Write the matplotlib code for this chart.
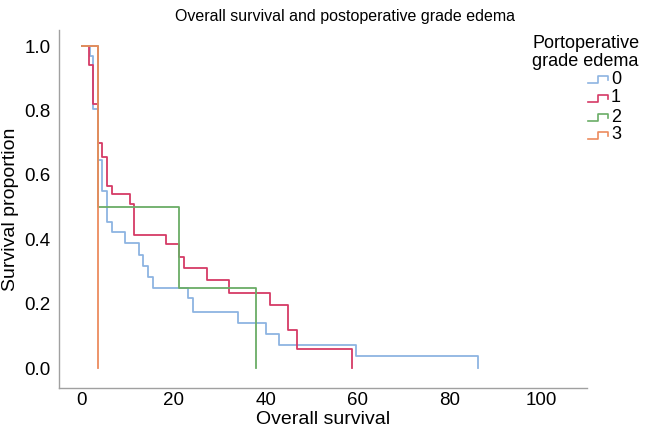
import matplotlib
matplotlib.use("Agg")
import matplotlib.pyplot as plt
from matplotlib.lines import Line2D

plt.rcParams["font.family"] = ["Liberation Sans", "DejaVu Sans"]

# ── Kaplan-Meier step data ───────────────────────────────────────────────────
GROUPS = ["0", "1", "2", "3"]
COLORS = ["#8db4e2", "#d63a66", "#6aad66", "#ec8b5e"]

times_0 = [0, 1.7, 2.5, 3.5, 4.4, 5.5, 6.5, 9.4, 12.5, 13.4, 14.4, 15.4,
           23.1, 24.2, 34.0, 40.0, 43.0, 59.7, 86.3]
surv_0 = [1.0, 0.97, 0.806, 0.646, 0.55, 0.453, 0.423, 0.387, 0.351, 0.318,
          0.284, 0.249, 0.217, 0.175, 0.141, 0.106, 0.071, 0.037, 0.0]

times_1 = [0, 1.5, 2.4, 3.5, 4.4, 5.4, 6.5, 10.5, 11.3, 18.3, 21.2, 22.2,
           27.2, 32.1, 41.0, 44.9, 46.9, 58.8]
surv_1 = [1.0, 0.94, 0.82, 0.70, 0.655, 0.565, 0.54, 0.51, 0.413, 0.385,
          0.346, 0.312, 0.275, 0.234, 0.196, 0.118, 0.059, 0.0]

times_2 = [0, 3.5, 21.1, 38.0]
surv_2 = [1.0, 0.5, 0.25, 0.0]

times_3 = [0, 3.5]
surv_3 = [1.0, 0.0]

X_TICKS = [0, 20, 40, 60, 80, 100]
Y_TICKS = [0.0, 0.2, 0.4, 0.6, 0.8, 1.0]

fig = plt.figure(figsize=(6.57, 4.33), dpi=100)
ax = fig.add_axes([59 / 657, 1 - 388 / 433, (587 - 59) / 657, (388 - 30) / 433])

series = [(times_0, surv_0), (times_1, surv_1), (times_2, surv_2), (times_3, surv_3)]
for (t, s), c in zip(series, COLORS):
    ax.step(t, s, where="post", color=c, lw=1.3)

ax.set_xlim(-5.0, 110.0)
ax.set_ylim(-0.062, 1.05)
ax.set_xticks(X_TICKS)
ax.set_yticks(Y_TICKS)
ax.set_yticklabels([f"{v:.1f}" for v in Y_TICKS])
ax.tick_params(axis="y", length=0, labelsize=13.5, pad=6)
ax.tick_params(axis="x", length=0, labelsize=13.5, pad=3)

for side in ("top", "right"):
    ax.spines[side].set_visible(False)
for side in ("left", "bottom"):
    ax.spines[side].set_color("#a0a0a0")
    ax.spines[side].set_linewidth(1.0)

ax.set_xlabel("Overall survival", fontsize=14, labelpad=1)
ax.set_ylabel("Survival proportion", fontsize=14, labelpad=4)
fig.text(0.525, 0.962, "Overall survival and postoperative grade edema",
         ha="center", va="center", fontsize=11.5)

# ── Legend (step-shaped handles, drawn by hand like SPSS) ─────────────────────
fig.text(532 / 657, 1 - 43 / 433, "Portoperative", ha="left", va="center", fontsize=13)
fig.text(532 / 657, 1 - 61 / 433, "grade edema", ha="left", va="center", fontsize=13)
entry_y = [79, 98, 117, 135]
for lab, c, yy in zip(GROUPS, COLORS, entry_y):
    yb = 1 - (yy + 4) / 433
    yt = 1 - (yy - 3) / 433
    xs = [588 / 657, 598 / 657, 598 / 657, 608 / 657, 608 / 657]
    ys = [yb, yb, yt, yt, yt - 4 / 433]
    fig.add_artist(Line2D(xs, ys, color=c, lw=1.2, transform=fig.transFigure))
    fig.text(611 / 657, 1 - yy / 433, lab, ha="left", va="center", fontsize=13)

fig.savefig("out.png", dpi=100)
